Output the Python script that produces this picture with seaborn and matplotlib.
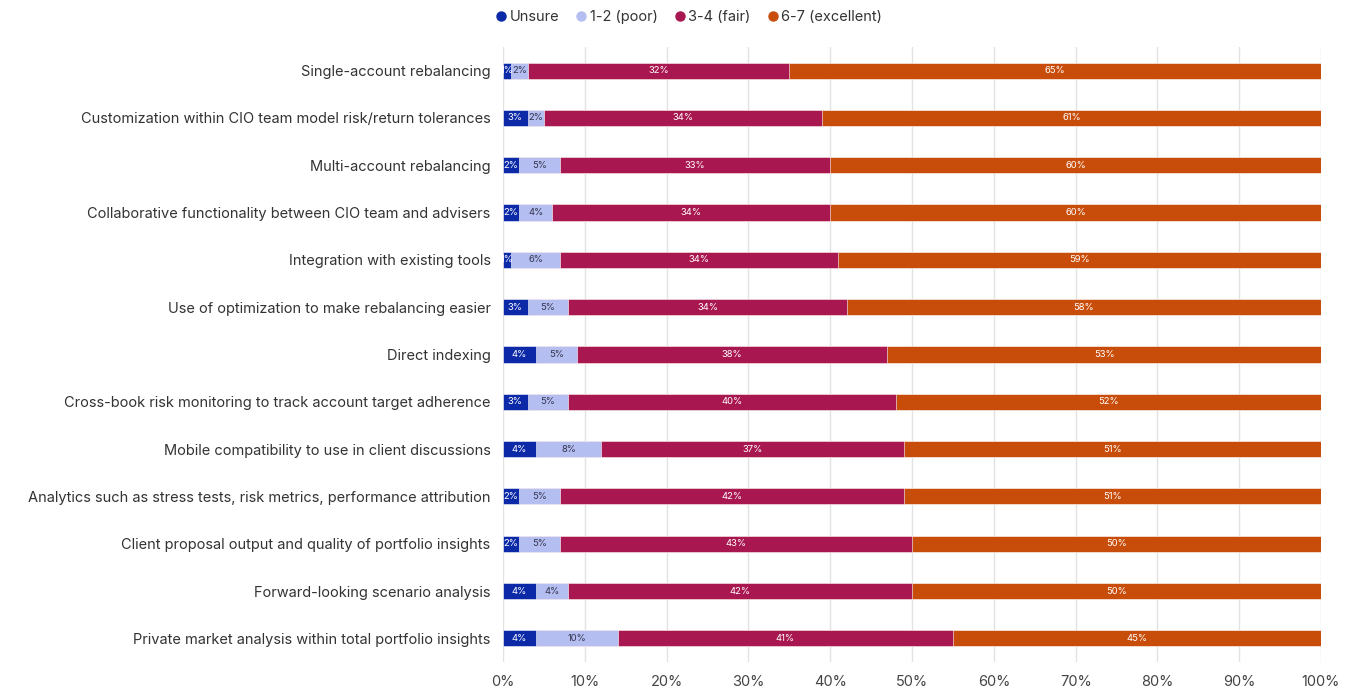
import matplotlib
matplotlib.use("Agg")
import matplotlib.pyplot as plt
from matplotlib.lines import Line2D
import seaborn as sns
import numpy as np
import pandas as pd

features = [
    "Single-account rebalancing",
    "Customization within CIO team model risk/return tolerances",
    "Multi-account rebalancing",
    "Collaborative functionality between CIO team and advisers",
    "Integration with existing tools",
    "Use of optimization to make rebalancing easier",
    "Direct indexing",
    "Cross-book risk monitoring to track account target adherence",
    "Mobile compatibility to use in client discussions",
    "Analytics such as stress tests, risk metrics, performance attribution",
    "Client proposal output and quality of portfolio insights",
    "Forward-looking scenario analysis",
    "Private market analysis within total portfolio insights",
]
unsure = [1, 3, 2, 2, 1, 3, 4, 3, 4, 2, 2, 4, 4]
poor = [2, 2, 5, 4, 6, 5, 5, 5, 8, 5, 5, 4, 10]
fair = [32, 34, 33, 34, 34, 34, 38, 40, 37, 42, 43, 42, 41]
excellent = [65, 61, 60, 60, 59, 58, 53, 52, 51, 51, 50, 50, 45]

series_names = ["Unsure", "1-2 (poor)", "3-4 (fair)", "6-7 (excellent)"]
colors = ["#0c2aa8", "#b4bef0", "#a8174f", "#c94d0a"]
label_colors = ["white", "#33334d", "white", "white"]

sns.set_theme(style="white")
plt.rcParams["font.family"] = ["Inter", "DejaVu Sans"]

df = pd.DataFrame({"feature": features, "Unsure": unsure, "1-2 (poor)": poor,
                   "3-4 (fair)": fair, "6-7 (excellent)": excellent})
cum = df[series_names].cumsum(axis=1)

fig = plt.figure(figsize=(13.57, 6.9), dpi=100)
ax = fig.add_axes([0.3707, 0.0405, 0.6028, 0.8915])

# stacked bars: draw cumulative totals from largest to smallest
for name, col in reversed(list(zip(series_names, colors))):
    sns.barplot(x=cum[name], y=df["feature"], color=col, orient="h",
                width=0.34, ax=ax, edgecolor="white", linewidth=0.4,
                saturation=1, zorder=2)

# segment labels
for j, name in enumerate(series_names):
    for i in range(len(features)):
        v = df[name][i]
        xc = cum[name][i] - v / 2
        ax.text(xc, i, f"{v}%", ha="center", va="center", fontsize=6.8,
                color=label_colors[j], zorder=5)

ax.set_xlim(0, 100)
ax.set_ylim(len(features) - 0.5, -0.5)
ax.set_xticks(np.arange(0, 101, 10))
ax.set_xticklabels([f"{t}%" for t in range(0, 101, 10)], fontsize=10.5, color="#444444")
ax.tick_params(axis="y", labelsize=10.5, labelcolor="#333333", length=0, pad=9)
ax.tick_params(axis="x", length=0, pad=9)
ax.set_xlabel("")
ax.set_ylabel("")
ax.grid(axis="x", color="#e2e2e2", linewidth=1, zorder=0)
ax.set_axisbelow(True)
for s in ax.spines.values():
    s.set_visible(False)

handles = [Line2D([], [], marker="o", linestyle="", markersize=6.5,
                  markerfacecolor=c, markeredgecolor=c) for c in colors]
fig.legend(handles, series_names, loc="center", bbox_to_anchor=(0.507, 0.975),
           ncol=4, frameon=False, fontsize=10.5, handletextpad=0.1,
           handlelength=1.0, columnspacing=1.0, labelcolor="#333333")

fig.savefig("out.png", dpi=100)
